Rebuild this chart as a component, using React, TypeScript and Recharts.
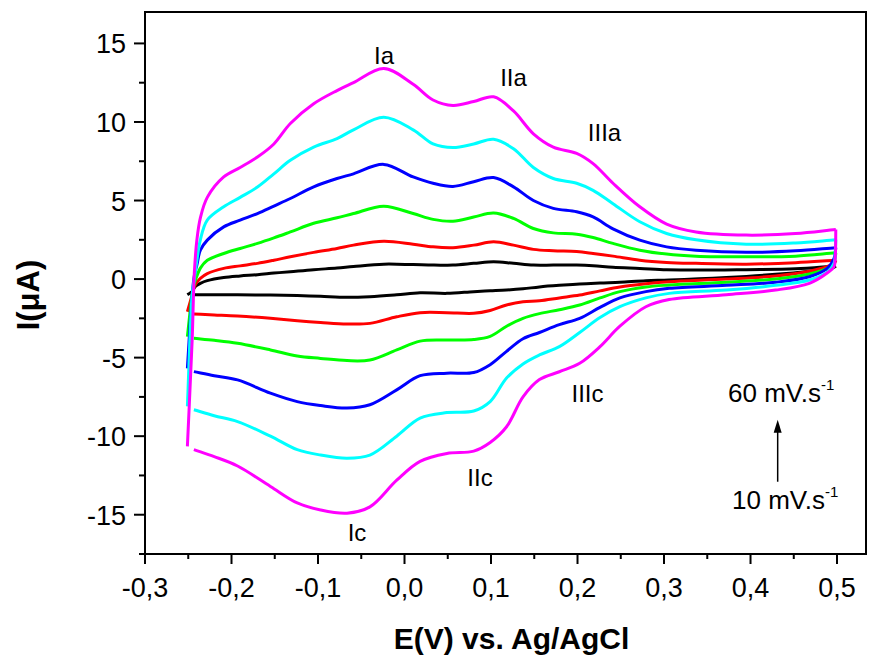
import React from 'react';
import { LineChart, Line, XAxis, YAxis, ReferenceArea, ReferenceDot, ReferenceLine } from 'recharts';

const FONT = '"Liberation Sans", Arial, Helvetica, sans-serif';

// scan rates (mV/s) and their colours
const SCAN_RATES = [10, 20, 30, 40, 50, 60];
const COLORS = ['#000000', '#ff0000', '#00ff00', '#0000ff', '#00ffff', '#ff00ff'];

// anodic (forward) branch potentials, V
const E_UP = [-0.251, -0.2455, -0.243, -0.24, -0.236, -0.228, -0.209, -0.19, -0.17, -0.151, -0.132, -0.105, -0.078, -0.059, -0.024, 0.01, 0.033, 0.056, 0.08, 0.103, 0.126, 0.149, 0.172, 0.199, 0.218, 0.241, 0.272, 0.303, 0.337, 0.395, 0.452, 0.4986];
const I_UP_10 = [-1.0, -0.8, -0.55, -0.4, -0.27, -0.1, 0.1, 0.2, 0.28, 0.38, 0.47, 0.6, 0.7, 0.8, 0.95, 0.92, 0.89, 0.9, 1.0, 1.1, 1.0, 0.89, 0.89, 0.89, 0.85, 0.75, 0.68, 0.6, 0.57, 0.6, 0.65, 0.83];
const I_UP_20 = [-2.08, -1.0, -0.5, -0.2, 0.05, 0.35, 0.68, 0.84, 1.0, 1.2, 1.42, 1.7, 1.95, 2.16, 2.41, 2.22, 2.05, 2.0, 2.16, 2.37, 2.16, 1.89, 1.8, 1.75, 1.63, 1.46, 1.2, 1.06, 1.0, 0.95, 1.04, 1.2];
const I_UP_30 = [-3.66, -1.0, -0.3, 0.2, 0.7, 1.2, 1.63, 1.95, 2.27, 2.62, 3.0, 3.55, 3.9, 4.17, 4.64, 4.17, 3.8, 3.68, 3.95, 4.2, 3.86, 3.22, 2.94, 2.86, 2.65, 2.27, 1.84, 1.59, 1.46, 1.42, 1.46, 1.67];
const I_UP_40 = [-5.68, -1.0, 0.2, 0.9, 1.84, 2.48, 3.32, 3.75, 4.17, 4.65, 5.13, 5.87, 6.4, 6.7, 7.3, 6.5, 6.1, 5.9, 6.2, 6.46, 5.87, 5.0, 4.5, 4.28, 3.96, 3.2, 2.48, 2.05, 1.84, 1.7, 1.8, 2.0];
const I_UP_50 = [-8.1, -1.0, 0.0, 1.2, 2.5, 3.75, 4.6, 5.2, 5.86, 6.7, 7.56, 8.4, 8.94, 9.5, 10.3, 9.5, 8.6, 8.37, 8.6, 8.9, 8.3, 7.1, 6.4, 6.1, 5.65, 4.8, 3.65, 2.9, 2.5, 2.22, 2.3, 2.5];
const I_UP_60 = [-10.65, -3.9, 0.36, 2.5, 3.9, 5.2, 6.5, 7.1, 7.77, 8.6, 9.9, 11.16, 12.0, 12.5, 13.4, 12.4, 11.4, 11.05, 11.3, 11.6, 10.7, 9.25, 8.4, 8.0, 7.35, 6.1, 4.6, 3.5, 3.0, 2.8, 2.9, 3.15];

// cathodic (reverse) branch potentials, V (listed low to high)
const E_DOWN = [-0.2435, -0.22, -0.193, -0.155, -0.124, -0.097, -0.0665, -0.04, -0.009, 0.018, 0.049, 0.08, 0.099, 0.118, 0.137, 0.156, 0.179, 0.2025, 0.226, 0.249, 0.279, 0.306, 0.372, 0.429, 0.468, 0.489, 0.4965, 0.498, 0.4986];
const I_DOWN_10 = [-1.0, -1.0, -1.0, -1.02, -1.05, -1.1, -1.16, -1.12, -1.0, -0.87, -0.91, -0.8, -0.75, -0.7, -0.62, -0.5, -0.4, -0.32, -0.25, -0.2, -0.1, -0.06, 0.1, 0.3, 0.5, 0.65, 0.75, 0.8, 0.83];
const I_DOWN_20 = [-2.22, -2.28, -2.35, -2.5, -2.65, -2.76, -2.86, -2.82, -2.4, -2.14, -2.14, -2.18, -2.0, -1.65, -1.45, -1.38, -1.2, -1.02, -0.75, -0.5, -0.3, -0.17, 0.0, 0.2, 0.5, 0.8, 1.0, 1.1, 1.2];
const I_DOWN_30 = [-3.77, -3.9, -4.09, -4.51, -4.9, -5.05, -5.19, -5.15, -4.51, -3.95, -3.88, -3.85, -3.65, -3.0, -2.5, -2.2, -1.95, -1.65, -1.2, -0.8, -0.5, -0.38, -0.2, 0.0, 0.32, 0.7, 1.1, 1.4, 1.67];
const I_DOWN_40 = [-5.89, -6.15, -6.42, -7.26, -7.8, -8.05, -8.21, -8.0, -7.05, -6.15, -5.99, -5.95, -5.45, -4.6, -3.8, -3.4, -2.9, -2.5, -1.8, -1.2, -0.8, -0.59, -0.4, -0.2, 0.15, 0.7, 1.3, 1.7, 2.0];
const I_DOWN_50 = [-8.32, -8.7, -9.07, -10.0, -10.86, -11.2, -11.4, -11.2, -10.0, -8.85, -8.5, -8.4, -7.8, -6.3, -5.4, -4.83, -4.3, -3.4, -2.45, -1.76, -1.2, -0.91, -0.7, -0.4, -0.06, 0.46, 1.0, 1.84, 2.5];
const I_DOWN_60 = [-10.86, -11.3, -11.9, -13.2, -14.25, -14.7, -14.9, -14.5, -12.8, -11.6, -11.1, -10.95, -10.4, -9.4, -7.5, -6.4, -5.9, -5.36, -4.3, -3.0, -1.76, -1.3, -1.0, -0.7, -0.27, 0.4, 0.78, 1.42, 3.15];

const I_UP = [I_UP_10, I_UP_20, I_UP_30, I_UP_40, I_UP_50, I_UP_60];
const I_DOWN = [I_DOWN_10, I_DOWN_20, I_DOWN_30, I_DOWN_40, I_DOWN_50, I_DOWN_60];

// axes
const X_DOMAIN = [-0.3, 0.5335];
const Y_DOMAIN = [-17.5, 17];
const X_TICKS = [-0.3, -0.25, -0.2, -0.15, -0.1, -0.05, 0, 0.05, 0.1, 0.15, 0.2, 0.25, 0.3, 0.35, 0.4, 0.45, 0.5];
const Y_TICKS = [-17.5, -15, -12.5, -10, -7.5, -5, -2.5, 0, 2.5, 5, 7.5, 10, 12.5, 15];
const X_TITLE = 'E(V) vs. Ag/AgCl';
const Y_TITLE = 'I(μA)';

// peak annotations
const PEAK_LABELS = [
  { text: 'Ia', E: -0.0237, I: 14.26 },
  { text: 'IIa', E: 0.126, I: 12.8 },
  { text: 'IIIa', E: 0.2312, I: 9.3 },
  { text: 'IIIc', E: 0.2116, I: -7.31 },
  { text: 'IIc', E: 0.0873, I: -12.66 },
  { text: 'Ic', E: -0.0549, I: -16.16 },
];
const RATE_LABELS = [
  { text: '60 mV.s', sup: '-1', E: 0.374, I: -7.19 },
  { text: '10 mV.s', sup: '-1', E: 0.3786, I: -14.06 },
];
const ARROW = { E: 0.4314, from: -12.9, to: -8.96 };

const toPoints = (E: number[], I: number[]) => E.map((e, i) => ({ E: e, I: I[i] }));

// centripetal Catmull-Rom curve (smooth, passes through every point)
const catmullRom = (context: any) => {
  let pts: number[][] = [];
  return {
    areaStart() {},
    areaEnd() {},
    lineStart() {
      pts = [];
    },
    point(x: number, y: number) {
      pts.push([+x, +y]);
    },
    lineEnd() {
      const n = pts.length;
      if (!n) return;
      context.moveTo(pts[0][0], pts[0][1]);
      const eps = 1e-9;
      for (let i = 0; i < n - 1; i++) {
        const p0 = pts[i - 1] || pts[i];
        const p1 = pts[i];
        const p2 = pts[i + 1];
        const p3 = pts[i + 2] || pts[i + 1];
        const d1 = Math.sqrt(Math.hypot(p1[0] - p0[0], p1[1] - p0[1]));
        const d2 = Math.sqrt(Math.hypot(p2[0] - p1[0], p2[1] - p1[1]));
        const d3 = Math.sqrt(Math.hypot(p3[0] - p2[0], p3[1] - p2[1]));
        let c1x: number, c1y: number, c2x: number, c2y: number;
        if (d1 > eps) {
          const a = 2 * d1 * d1 + 3 * d1 * d2 + d2 * d2;
          const nn = 3 * d1 * (d1 + d2);
          c1x = (p1[0] * a - p0[0] * d2 * d2 + p2[0] * d1 * d1) / nn;
          c1y = (p1[1] * a - p0[1] * d2 * d2 + p2[1] * d1 * d1) / nn;
        } else {
          c1x = p1[0] + (p2[0] - p1[0]) / 3;
          c1y = p1[1] + (p2[1] - p1[1]) / 3;
        }
        if (d3 > eps) {
          const b = 2 * d3 * d3 + 3 * d3 * d2 + d2 * d2;
          const m = 3 * d3 * (d3 + d2);
          c2x = (p2[0] * b + p1[0] * d3 * d3 - p3[0] * d2 * d2) / m;
          c2y = (p2[1] * b + p1[1] * d3 * d3 - p3[1] * d2 * d2) / m;
        } else {
          c2x = p2[0] - (p2[0] - p1[0]) / 3;
          c2y = p2[1] - (p2[1] - p1[1]) / 3;
        }
        context.bezierCurveTo(c1x, c1y, c2x, c2y, p2[0], p2[1]);
      }
    },
  };
};

const fmtX = (v: number) => v.toFixed(1).replace('.', ',');

const XTick = (props: any) => {
  const { x, y, payload } = props;
  const v = payload.value as number;
  const major = Math.abs(v * 10 - Math.round(v * 10)) < 1e-6;
  return (
    <g>
      <line x1={x} y1={y} x2={x} y2={y + (major ? 10 : 5)} stroke="#000" strokeWidth={2} />
      {major && (
        <text x={x} y={y + 43} textAnchor="middle" fontSize={27} fontFamily={FONT} fill="#000">
          {fmtX(v)}
        </text>
      )}
    </g>
  );
};

const YTick = (props: any) => {
  const { x, y, payload } = props;
  const v = payload.value as number;
  const major = Math.abs(v / 5 - Math.round(v / 5)) < 1e-6;
  return (
    <g>
      <line x1={x - (major ? 11 : 6)} y1={y} x2={x} y2={y} stroke="#000" strokeWidth={2} />
      {major && (
        <text x={x - 19} y={y + 10} textAnchor="end" fontSize={27} fontFamily={FONT} fill="#000">
          {String(v)}
        </text>
      )}
    </g>
  );
};

const XTitle = (props: any) => {
  const vb = props.viewBox || {};
  const cx = (vb.x ?? 145) + (vb.width ?? 721) / 2 + 6;
  const y = (vb.y ?? 554) + 95;
  return (
    <text x={cx} y={y} textAnchor="middle" fontSize={30} fontWeight="bold" fontFamily={FONT} fill="#000">
      {X_TITLE}
    </text>
  );
};

const YTitle = () => {
  const x = 28;
  const y = 295;
  return (
    <text
      x={x}
      y={y}
      transform={`rotate(-90, ${x}, ${y})`}
      textAnchor="middle"
      dominantBaseline="central"
      fontSize={31}
      fontWeight="bold"
      fontFamily={FONT}
      fill="#000"
    >
      {Y_TITLE}
    </text>
  );
};

export default function App() {
  return (
    <div style={{ position: 'absolute', left: 0, top: 0, background: '#fff' }}>
      <LineChart width={869} height={657} margin={{ top: 12, right: 3, bottom: 0, left: 0 }}>
        <XAxis
          dataKey="E"
          type="number"
          domain={X_DOMAIN}
          ticks={X_TICKS}
          interval={0}
          allowDataOverflow
          height={103}
          tickLine={false}
          tickSize={0}
          tickMargin={0}
          axisLine={{ stroke: '#000', strokeWidth: 2 }}
          tick={(p: any) => <XTick {...p} />}
          label={{ content: XTitle }}
        />
        <YAxis
          dataKey="I"
          type="number"
          domain={Y_DOMAIN}
          ticks={Y_TICKS}
          interval={0}
          allowDataOverflow
          width={145}
          tickLine={false}
          tickSize={0}
          tickMargin={0}
          axisLine={{ stroke: '#000', strokeWidth: 2 }}
          tick={(p: any) => <YTick {...p} />}
          label={{ content: YTitle }}
        />
        <ReferenceArea
          x1={X_DOMAIN[0]}
          x2={X_DOMAIN[1]}
          y1={Y_DOMAIN[0]}
          y2={Y_DOMAIN[1]}
          fill="none"
          fillOpacity={0}
          stroke="#000"
          strokeWidth={2}
        />
        {SCAN_RATES.map((r, i) => [
          <Line
            key={`up-${r}`}
            data={toPoints(E_UP, I_UP[i])}
            dataKey="I"
            type={catmullRom as any}
            stroke={COLORS[i]}
            strokeWidth={3}
            dot={false}
            activeDot={false}
            isAnimationActive={false}
          />,
          <Line
            key={`down-${r}`}
            data={toPoints(E_DOWN, I_DOWN[i])}
            dataKey="I"
            type={catmullRom as any}
            stroke={COLORS[i]}
            strokeWidth={3}
            dot={false}
            activeDot={false}
            isAnimationActive={false}
          />,
        ])}
        {PEAK_LABELS.map((l) => (
          <ReferenceDot
            key={l.text}
            x={l.E}
            y={l.I}
            r={0}
            shape={(p: any) => (
              <text x={p.cx} y={p.cy + 8.5} textAnchor="middle" fontSize={24} fontFamily={FONT} fill="#000">
                {l.text}
              </text>
            )}
          />
        ))}
        {RATE_LABELS.map((l) => (
          <ReferenceDot
            key={l.text + l.I}
            x={l.E}
            y={l.I}
            r={0}
            shape={(p: any) => (
              <text x={p.cx} y={p.cy + 9.5} textAnchor="start" fontSize={26} fontFamily={FONT} fill="#000">
                {l.text}
                <tspan dy={-12} fontSize={15}>{l.sup}</tspan>
              </text>
            )}
          />
        ))}
        <ReferenceLine
          segment={[{ x: ARROW.E, y: ARROW.from }, { x: ARROW.E, y: ARROW.to - 0.6 }]}
          stroke="#000"
          strokeWidth={1.5}
        />
        <ReferenceDot
          x={ARROW.E}
          y={ARROW.to}
          r={0}
          shape={(p: any) => (
            <polygon
              points={`${p.cx},${p.cy} ${p.cx - 4},${p.cy + 13} ${p.cx + 4},${p.cy + 13}`}
              fill="#000"
            />
          )}
        />
      </LineChart>
    </div>
  );
}
